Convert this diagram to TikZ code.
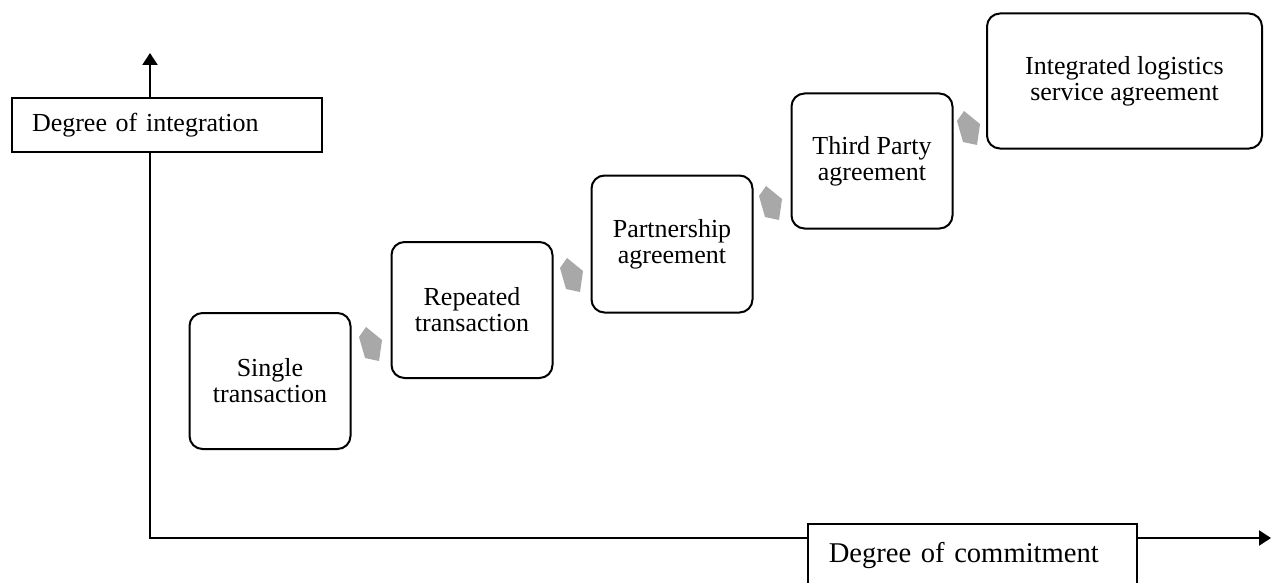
\documentclass[tikz,border=0pt]{standalone}
\usepackage{fontspec}
\setmainfont{Liberation Serif}
\usetikzlibrary{arrows.meta}
\tikzset{
  stage/.style={draw=black, line width=2pt, rounded corners=13pt, fill=white,
    align=center, inner sep=0pt, font=\fontsize{26}{26}\selectfont},
  axislabel/.style={draw=black, line width=1.6pt, fill=white, align=left,
    font=\fontsize{26}{26}\selectfont},
  axisline/.style={line width=2.2pt, -{Triangle[length=12pt,width=15pt]}},
  garrow/.pic={\fill[gray!68] (-11,-8)--(-4,-18)--(12,-5)--(9,16)--(-5,13)--cycle;}
}
\begin{document}
\begin{tikzpicture}[x=1pt,y=-1pt]
\clip (0,0) rectangle (1271,583);
\fill[white] (0,0) rectangle (1271,583);
% axes
\coordinate (origin) at (150,538);
\coordinate (ytip) at (150,53);
\coordinate (xtip) at (1271,538);
\draw[axisline] (origin) -- (ytip);
\draw[axisline] ([xshift=-1.1pt]origin) -- (xtip);
% axis labels
\node[axislabel, minimum width=310pt, minimum height=54pt, text width=270pt,
      inner xsep=20pt, inner ysep=0pt] (ylab) at (167,125) {Degree of integration};
\node[axislabel, anchor=north west, minimum width=329pt, text width=287pt,
      inner xsep=21pt, inner ysep=0pt, text height=39pt, text depth=42pt,
      font=\fontsize{28.6}{28}\selectfont] (xlab) at (807,523) {Degree of commitment};
% stages
\node[stage, minimum width=161pt, minimum height=136pt] (s1) at (270,381) {Single\\transaction};
\node[stage, minimum width=161pt, minimum height=136pt] (s2) at (472,310) {Repeated\\transaction};
\node[stage, minimum width=161pt, minimum height=137pt] (s3) at (672,244) {Partnership\\agreement};
\node[stage, minimum width=161pt, minimum height=135pt] (s4) at (872,161) {Third Party\\agreement};
\node[stage, minimum width=275pt, minimum height=135pt] (s5) at (1124.5,81) {Integrated logistics\\service agreement};
% grey arrows between stages
\pic at (370,345) {garrow};
\pic at (571,276) {garrow};
\pic at (770,204) {garrow};
\pic at (968,129) {garrow};
\end{tikzpicture}
\end{document}
